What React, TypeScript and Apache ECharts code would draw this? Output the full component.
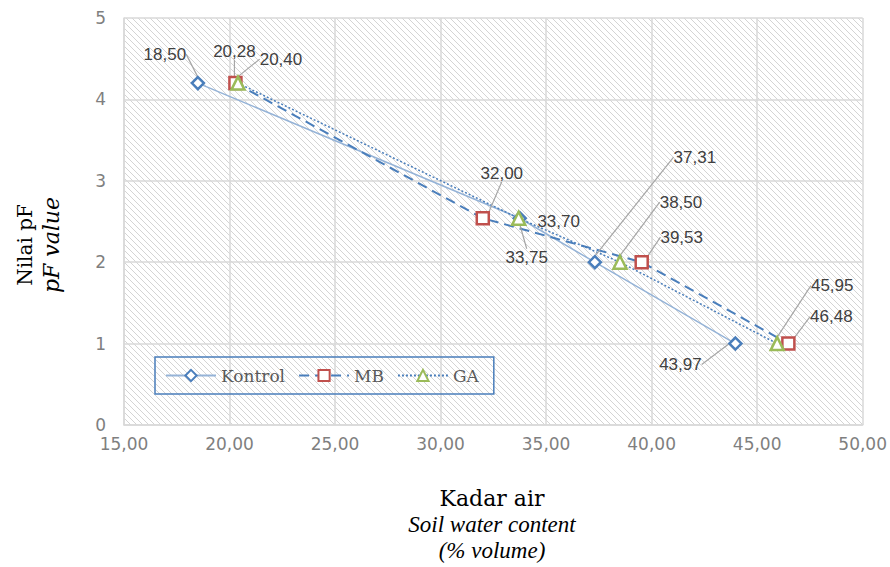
import React, { useEffect, useRef } from "react";
import * as echarts from "echarts";

const pfValues = [4.2, 2.54, 2, 1];
const kontrolX = [18.5, 33.75, 37.31, 43.97];
const mbX = [20.28, 32.0, 39.53, 46.48];
const gaX = [20.4, 33.7, 38.5, 45.95];
const seriesNames = ["Kontrol", "MB", "GA"];

// label offsets (style only): label centre relative to its point, px
const kontrolLabelOff = [[-33, -29], [7, 39], [100, -105], [-55, 21]];
const mbLabelOff = [[-1, -32], [19, -45], [40, -25], [43, -27]];
const gaLabelOff = [[43, -24], [40, 3], [61, -60], [55, -58]];

const fmt = (v: number) => v.toFixed(2).replace(".", ",");

function makeHatch() {
  const c = document.createElement("canvas");
  const s = 6;
  c.width = s;
  c.height = s;
  const ctx = c.getContext("2d")!;
  ctx.fillStyle = "#ffffff";
  ctx.fillRect(0, 0, s, s);
  ctx.strokeStyle = "#d4d4d4";
  ctx.lineWidth = 1;
  ctx.beginPath();
  ctx.moveTo(-1, -1);
  ctx.lineTo(s + 1, s + 1);
  ctx.moveTo(-1, s - 1);
  ctx.lineTo(1, s + 1);
  ctx.moveTo(s - 1, -1);
  ctx.lineTo(s + 1, 1);
  ctx.stroke();
  return c;
}

export default function App() {
  const ref = useRef<HTMLDivElement>(null);
  useEffect(() => {
    const chart = echarts.init(ref.current!, null, { renderer: "svg" });
    const labelCommon = {
      show: true,
      position: "inside",
      color: "#404040",
      fontSize: 17,
      fontFamily: "Liberation Sans",
      formatter: (p: any) => fmt(p.value[0]),
    };
    const mk = (
      name: string,
      xs: number[],
      offs: number[][],
      symbol: string,
      size: number,
      lineStyle: any,
      border: string,
      noLine: number[] = []
    ) => ({
      name,
      type: "line",
      data: xs.map((x, i) => ({
        value: [x, pfValues[i]],
        labelLine: { show: noLine.indexOf(i) < 0 },
      })),
      symbol,
      symbolSize: size,
      showAllSymbol: true,
      lineStyle,
      itemStyle: { color: "#ffffff", borderColor: border, borderWidth: 2.5 },
      label: labelCommon,
      labelLine: { show: true, lineStyle: { color: "#a6a6a6", width: 1.2 } },
      labelLayout: (p: any) => ({ dx: offs[p.dataIndex][0], dy: offs[p.dataIndex][1] }),
      emphasis: { disabled: true },
    });
    chart.setOption({
      animation: false,
      grid: {
        left: 124,
        right: 27,
        top: 18,
        bottom: 142,
        show: true,
        borderWidth: 0,
        backgroundColor: { image: makeHatch(), repeat: "repeat" },
      },
      xAxis: {
        type: "value",
        min: 15,
        max: 50,
        interval: 5,
        axisLine: { show: true, lineStyle: { color: "#d9d9d9", width: 1.5 } },
        axisTick: { show: false },
        splitLine: { show: true, lineStyle: { color: "#d9d9d9", width: 1.5 } },
        axisLabel: {
          formatter: (v: number) => fmt(v),
          color: "#7f7f7f",
          fontSize: 17,
          fontFamily: "DejaVu Sans",
          margin: 10,
        },
      },
      yAxis: {
        type: "value",
        min: 0,
        max: 5,
        interval: 1,
        axisLine: { show: true, lineStyle: { color: "#d9d9d9", width: 1.5 } },
        axisTick: { show: false },
        splitLine: { show: true, lineStyle: { color: "#d9d9d9", width: 1.5 } },
        axisLabel: { color: "#7f7f7f", fontSize: 17, fontFamily: "DejaVu Sans", margin: 18 },
      },
      legend: {
        data: seriesNames,
        left: 155,
        top: 357,
        orient: "horizontal",
        borderColor: "#4a7ebb",
        borderWidth: 1.5,
        padding: [10, 15, 10, 10],
        itemWidth: 50,
        itemHeight: 14,
        itemGap: 13,
        textStyle: { fontFamily: "DejaVu Serif", fontSize: 17, color: "#595959" },
      },
      series: [
        mk("Kontrol", kontrolX, kontrolLabelOff, "diamond", 12, { color: "#95b3d7", width: 1.5 }, "#4a7ebb"),
        mk("MB", mbX, mbLabelOff, "rect", 12, { color: "#4a7ebb", width: 2, type: [10, 6] }, "#c0504d"),
        mk("GA", gaX, gaLabelOff, "triangle", 13, { color: "#4a7ebb", width: 1.5, type: [2, 2] }, "#9bbb59", [1]),
      ],
      graphic: [
        {
          type: "text",
          x: 38,
          y: 245,
          rotation: Math.PI / 2,
          style: {
            text: "{a|Nilai pF}\n{b|pF value}",
            align: "center",
            verticalAlign: "middle",
            rich: {
              a: { fontFamily: "DejaVu Serif", fontSize: 20, color: "#262626", lineHeight: 26, align: "center" },
              b: { fontFamily: "DejaVu Serif", fontStyle: "italic", fontSize: 22, color: "#262626", lineHeight: 26, align: "center" },
            },
          },
        },
        {
          type: "text",
          x: 492,
          y: 524,
          style: {
            text: "{a|Kadar air}\n{b|Soil water content}\n{b|(% volume)}",
            align: "center",
            verticalAlign: "middle",
            rich: {
              a: { fontFamily: "DejaVu Serif", fontSize: 22, color: "#262626", lineHeight: 27, align: "center" },
              b: { fontFamily: "Liberation Serif", fontStyle: "italic", fontSize: 23, color: "#262626", lineHeight: 26, align: "center" },
            },
          },
        },
      ],
    });
    return () => chart.dispose();
  }, []);
  return (
    <div
      ref={ref}
      style={{ position: "fixed", left: 0, top: 0, width: 890, height: 567, background: "#fff" }}
    />
  );
}
